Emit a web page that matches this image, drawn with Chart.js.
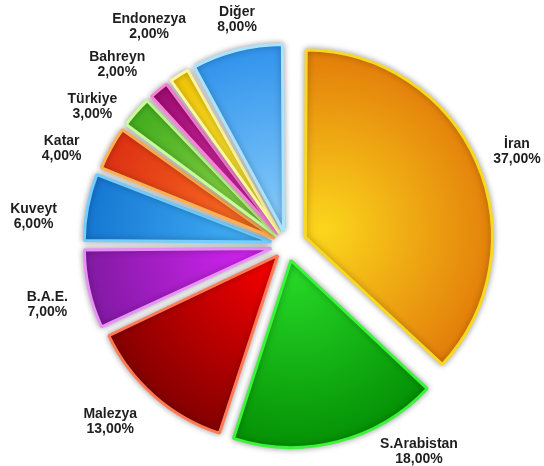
<!DOCTYPE html>
<html>
<head>
<meta charset="utf-8">
<script src="https://cdn.jsdelivr.net/npm/chart.js@4"></script>
<style>
  html, body { margin: 0; padding: 0; background: #fff; }
  #wrap { width: 544px; height: 466px; position: relative; }
</style>
</head>
<body>
<div id="wrap"><canvas id="pieChart"></canvas></div>
<script>
// data
const countries = ['İran', 'S.Arabistan', 'Malezya', 'B.A.E.', 'Kuveyt', 'Katar', 'Türkiye', 'Bahreyn', 'Endonezya', 'Diğer'];
const shares = [37, 18, 13, 7, 6, 4, 3, 2, 2, 8];

// styling (inner light colour, outer dark colour, border colour)
const innerColors = ['#fbd61c', '#26d626', '#f20000', '#d424f2', '#44b2f8', '#ff7424', '#94da4c', '#e232b4', '#fff244', '#84cafa'];
const outerColors = ['#e07408', '#008800', '#760000', '#761898', '#0e6ecc', '#d82810', '#38a618', '#960868', '#eebe00', '#268cea'];
const borderColors = ['#f8d820', '#3cf43c', '#ff7a55', '#e890f8', '#74ceff', '#ffb050', '#c8ff98', '#ff80d8', '#fff8a0', '#a8e4ff'];
// explode distance in px (Chart.js moves an arc by offset / 4)
const explode = [20, 16, 14, 16, 16, 14, 14, 14, 14, 14];
// label placement: angle nudge (deg) and distance from centre
const labelPlace = [[1.4, 248], [-18.2, 245], [3.6, 250], [-1.4, 247], [-4.5, 255], [-5.7, 245], [-5.9, 239], [-3.6, 248], [0.1, 258], [1.9, 231]];
const baseRadius = 187;

const total = shares.reduce((a, b) => a + b, 0);

function midAngle(i) { // canvas angle of slice middle, pie starts at 12 o'clock
    let before = 0;
    for (let k = 0; k < i; k++) before += shares[k];
    return -Math.PI / 2 + (before + shares[i] / 2) / total * Math.PI * 2;
}

function sliceFill(context) {
    const i = context.dataIndex;
    const chart = context.chart;
    const area = chart.chartArea;
    if (!area) return innerColors[i];
    const cx = (area.left + area.right) / 2;
    const cy = (area.top + area.bottom) / 2;
    const h = midAngle(i);
    const ax = cx + Math.cos(h) * explode[i];
    const ay = cy + Math.sin(h) * explode[i];
    const g = chart.ctx.createRadialGradient(ax, ay, 0, ax, ay, baseRadius + 8);
    g.addColorStop(0, innerColors[i]);
    g.addColorStop(1, outerColors[i]);
    return g;
}

// Chart.js grows an exploded arc's radius a bit; pull it back so all slices share one radius
const radiusFix = {
    id: 'radiusFix',
    afterDatasetUpdate(chart, args) {
        args.meta.data.forEach((arc, i) => {
            const fix = 1 - Math.sin(Math.min(Math.PI, arc.circumference));
            arc.outerRadius = baseRadius - explode[i] * fix;
        });
    }
};

const shadowPlugin = {
    id: 'sliceShadow',
    beforeDatasetsDraw(chart) {
        const ctx = chart.ctx;
        ctx.save();
        ctx.shadowColor = 'rgba(0, 0, 0, 0.35)';
        ctx.shadowBlur = 6;
    },
    afterDatasetsDraw(chart) {
        chart.ctx.restore();
    }
};

const labelPlugin = {
    id: 'outsideLabels',
    afterDatasetsDraw(chart) {
        const ctx = chart.ctx;
        const area = chart.chartArea;
        const cx = (area.left + area.right) / 2;
        const cy = (area.top + area.bottom) / 2;
        ctx.save();
        ctx.font = 'bold 14px "Liberation Sans", Arial, sans-serif';
        ctx.fillStyle = '#1e1e1e';
        ctx.textAlign = 'center';
        ctx.textBaseline = 'middle';
        countries.forEach((name, i) => {
            const a = midAngle(i) + labelPlace[i][0] * Math.PI / 180;
            const r = labelPlace[i][1];
            const x = cx + Math.cos(a) * r;
            const y = cy + Math.sin(a) * r;
            ctx.fillText(name, x, y - 7.5);
            ctx.fillText(shares[i].toFixed(2).replace('.', ',') + '%', x, y + 7.5);
        });
        ctx.restore();
    }
};

const ctx = document.getElementById('pieChart').getContext('2d');

const pieChart = new Chart(ctx, {
    type: 'pie',
    data: {
        labels: countries,
        datasets: [{
            data: shares,
            backgroundColor: sliceFill,
            borderColor: borderColors,
            borderWidth: 3,
            offset: explode.map(e => e * 4),
            radius: baseRadius,
            clip: false
        }]
    },
    options: {
        responsive: true,
        maintainAspectRatio: false,
        animation: false,
        events: [],
        layout: {
            padding: { left: 30, top: 24, right: 0, bottom: 0 }
        },
        plugins: {
            legend: { display: false },
            tooltip: { enabled: false }
        }
    },
    plugins: [radiusFix, shadowPlugin, labelPlugin]
});
</script>
</body>
</html>
